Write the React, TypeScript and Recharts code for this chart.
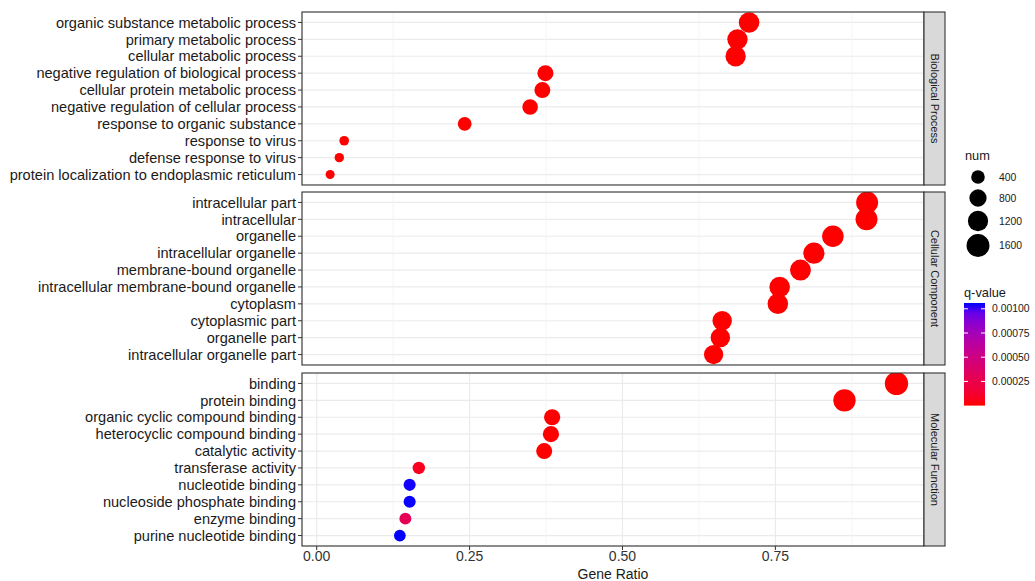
import { CartesianGrid, Cell, ReferenceLine, Scatter, ScatterChart, XAxis, YAxis, ZAxis } from 'recharts';

// GO terms, listed top to bottom as they appear in each facet
const bpTerms = [
    'organic substance metabolic process',
    'primary metabolic process',
    'cellular metabolic process',
    'negative regulation of biological process',
    'cellular protein metabolic process',
    'negative regulation of cellular process',
    'response to organic substance',
    'response to virus',
    'defense response to virus',
    'protein localization to endoplasmic reticulum',
];
const bpRatio = [0.707, 0.688, 0.685, 0.374, 0.369, 0.349, 0.242, 0.045, 0.037, 0.022];
const bpNum = [1237, 1204, 1199, 655, 646, 611, 424, 79, 65, 39];
const bpQ = [2.1e-40, 5.3e-38, 8.0e-36, 3.2e-20, 1.5e-18, 4.1e-17, 2.7e-12, 6.0e-9, 1.1e-7, 3.5e-6];

const ccTerms = [
    'intracellular part',
    'intracellular',
    'organelle',
    'intracellular organelle',
    'membrane-bound organelle',
    'intracellular membrane-bound organelle',
    'cytoplasm',
    'cytoplasmic part',
    'organelle part',
    'intracellular organelle part',
];
const ccRatio = [0.9, 0.899, 0.844, 0.813, 0.791, 0.757, 0.754, 0.663, 0.66, 0.649];
const ccNum = [1449, 1447, 1380, 1330, 1290, 1240, 1235, 1085, 1080, 1062];
const ccQ = [1.0e-45, 2.0e-45, 3.1e-40, 4.4e-38, 2.2e-36, 6.0e-33, 9.1e-33, 1.3e-25, 2.4e-25, 5.6e-24];

const mfTerms = [
    'binding',
    'protein binding',
    'organic cyclic compound binding',
    'heterocyclic compound binding',
    'catalytic activity',
    'transferase activity',
    'nucleotide binding',
    'nucleoside phosphate binding',
    'enzyme binding',
    'purine nucleotide binding',
];
const mfRatio = [0.948, 0.863, 0.385, 0.383, 0.372, 0.167, 0.152, 0.152, 0.145, 0.136];
const mfNum = [1659, 1510, 674, 670, 651, 292, 266, 266, 254, 238];
const mfQ = [1.0e-30, 1.0e-25, 2.0e-8, 3.0e-8, 4.0e-7, 7.0e-5, 0.001055, 0.001058, 0.00029, 0.00106];

const facetLabels = ['Biological Process', 'Cellular Component', 'Molecular Function'];
const xTicks = [0, 0.25, 0.5, 0.75];
const xMinor = [0.125, 0.375, 0.625, 0.875];
const numLegend = [400, 800, 1200, 1600];
const qLegend = [0.001, 0.00075, 0.0005, 0.00025];

const FONT = '"Liberation Sans", Arial, sans-serif';
const X_DOMAIN: [number, number] = [-0.024, 0.993];
const Z_RANGE: [number, number] = [64, 426];
const PLOT_L = 302;
const PLOT_R = 924;
const PANEL_H = 173;
const PANEL_TOPS = [12, 192, 373];

const allNum = [...bpNum, ...ccNum, ...mfNum];
const allQ = [...bpQ, ...ccQ, ...mfQ];
const NUM_MIN = Math.min(...allNum);
const NUM_MAX = Math.max(...allNum);
const Q_MIN = Math.min(...allQ);
const Q_MAX = Math.max(...allQ);

// red -> blue gradient in Lab space, like ggplot's scale_colour_gradient
function toLinear(c: number) {
    const v = c / 255;
    return v <= 0.04045 ? v / 12.92 : Math.pow((v + 0.055) / 1.055, 2.4);
}
function toLab(rgb: number[]) {
    const [r, g, b] = rgb.map(toLinear);
    const x = (0.4124 * r + 0.3576 * g + 0.1805 * b) / 0.95047;
    const y = 0.2126 * r + 0.7152 * g + 0.0722 * b;
    const z = (0.0193 * r + 0.1192 * g + 0.9505 * b) / 1.08883;
    const f = (t: number) => (t > 0.008856 ? Math.cbrt(t) : 7.787 * t + 16 / 116);
    return [116 * f(y) - 16, 500 * (f(x) - f(y)), 200 * (f(y) - f(z))];
}
function fromLab([L, a, bb]: number[]) {
    const fy = (L + 16) / 116;
    const fx = fy + a / 500;
    const fz = fy - bb / 200;
    const inv = (t: number) => (t * t * t > 0.008856 ? t * t * t : (t - 16 / 116) / 7.787);
    const x = inv(fx) * 0.95047;
    const y = inv(fy);
    const z = inv(fz) * 1.08883;
    const lin = [
        3.2406 * x - 1.5372 * y - 0.4986 * z,
        -0.9689 * x + 1.8758 * y + 0.0415 * z,
        0.0557 * x - 0.204 * y + 1.057 * z,
    ];
    const out = lin.map((c) => {
        const v = Math.min(1, Math.max(0, c));
        const s = v <= 0.0031308 ? 12.92 * v : 1.055 * Math.pow(v, 1 / 2.4) - 0.055;
        return Math.round(s * 255);
    });
    return `rgb(${out[0]},${out[1]},${out[2]})`;
}
const LOW = toLab([255, 0, 0]);
const HIGH = toLab([0, 0, 255]);
function qColor(q: number) {
    const t = (q - Q_MIN) / (Q_MAX - Q_MIN);
    return fromLab(LOW.map((v, i) => v + (HIGH[i] - v) * t));
}
function legendRadius(n: number) {
    const area = Z_RANGE[0] + ((Z_RANGE[1] - Z_RANGE[0]) * (n - NUM_MIN)) / (NUM_MAX - NUM_MIN);
    return Math.sqrt(area / Math.PI);
}

const facets = [
    { terms: bpTerms, ratio: bpRatio, num: bpNum, q: bpQ },
    { terms: ccTerms, ratio: ccRatio, num: ccNum, q: ccQ },
    { terms: mfTerms, ratio: mfRatio, num: mfNum, q: mfQ },
];

function Facet({ index }: { index: number }) {
    const f = facets[index];
    const rows = f.terms.map((term, i) => ({ term, ratio: f.ratio[i], num: f.num[i], q: f.q[i] }));
    const showX = index === facets.length - 1;
    const axisH = showX ? 36 : 0;
    return (
        <div style={{ position: 'absolute', left: 0, top: PANEL_TOPS[index] }}>
            <ScatterChart
                width={PLOT_R}
                height={PANEL_H + axisH}
                margin={{ top: 0, right: 0, bottom: 0, left: 0 }}
                style={{ fontFamily: FONT }}
            >
                <CartesianGrid stroke="#EBEBEB" strokeWidth={1.2} />
                <XAxis
                    type="number"
                    dataKey="ratio"
                    domain={X_DOMAIN}
                    ticks={xTicks}
                    allowDataOverflow
                    height={axisH}
                    axisLine={false}
                    tick={showX ? { fill: '#333', fontSize: 14 } : false}
                    tickLine={showX ? { stroke: '#333' } : false}
                    tickSize={4}
                    tickMargin={1}
                    tickFormatter={(v: number) => v.toFixed(2)}
                    label={
                        showX
                            ? { value: 'Gene Ratio', position: 'insideBottom', offset: 3, fill: '#1a1a1a', fontSize: 14 }
                            : undefined
                    }
                />
                <YAxis
                    type="category"
                    dataKey="term"
                    width={PLOT_L}
                    reversed
                    interval={0}
                    padding={{ top: 2, bottom: 2 }}
                    axisLine={false}
                    tick={{ fill: '#1a1a1a', fontSize: 14.6 }}
                    tickLine={{ stroke: '#333' }}
                    tickSize={4}
                    tickMargin={2}
                />
                <ZAxis type="number" dataKey="num" domain={[NUM_MIN, NUM_MAX]} range={Z_RANGE} />
                {xMinor.map((v) => (
                    <ReferenceLine key={v} x={v} stroke="#F3F3F3" strokeWidth={0.8} />
                ))}
                <Scatter data={rows} isAnimationActive={false}>
                    {rows.map((r) => (
                        <Cell key={r.term} fill={qColor(r.q)} />
                    ))}
                </Scatter>
            </ScatterChart>
        </div>
    );
}

function Overlay() {
    const barTop = 303;
    const barH = 102.6;
    const barX = 964;
    const barW = 21;
    const stops = Array.from({ length: 11 }, (_, i) => i / 10);
    const qY = (q: number) => barTop + barH - ((q - Q_MIN) / (Q_MAX - Q_MIN)) * barH;
    const sizeY = [177, 198, 221, 245.5];
    return (
        <svg
            width={1035}
            height={581}
            style={{ position: 'absolute', left: 0, top: 0, pointerEvents: 'none', fontFamily: FONT }}
        >
            <defs>
                <linearGradient id="qbar" x1="0" y1="1" x2="0" y2="0">
                    {stops.map((t) => (
                        <stop key={t} offset={t} stopColor={qColor(Q_MIN + t * (Q_MAX - Q_MIN))} />
                    ))}
                </linearGradient>
            </defs>
            {PANEL_TOPS.map((top, i) => (
                <g key={i}>
                    <rect x={PLOT_L} y={top} width={PLOT_R - PLOT_L} height={PANEL_H} fill="none" stroke="#333" strokeWidth={1.1} />
                    <rect x={PLOT_R} y={top} width={21} height={PANEL_H} fill="#D9D9D9" stroke="#333" strokeWidth={1.1} />
                    <text
                        transform={`translate(${PLOT_R + 10.5},${top + PANEL_H / 2}) rotate(90)`}
                        textAnchor="middle"
                        dy="0.35em"
                        fontSize={11}
                        fill="#1a1a1a"
                    >
                        {facetLabels[i]}
                    </text>
                </g>
            ))}

            <text x={965} y={160} fontSize={12.8} fill="#1a1a1a">
                num
            </text>
            {numLegend.map((n, i) => (
                <g key={n}>
                    <circle cx={978} cy={sizeY[i]} r={legendRadius(n)} fill="#000" />
                    <text x={999} y={sizeY[i]} dy="0.35em" fontSize={10.4} fill="#1a1a1a">
                        {n}
                    </text>
                </g>
            ))}

            <text x={964} y={297} fontSize={12.8} fill="#1a1a1a">
                q-value
            </text>
            <rect x={barX} y={barTop} width={barW} height={barH} fill="url(#qbar)" />
            {qLegend.map((q) => (
                <g key={q}>
                    <line x1={barX} x2={barX + 4} y1={qY(q)} y2={qY(q)} stroke="#fff" strokeWidth={1} />
                    <line x1={barX + barW - 4} x2={barX + barW} y1={qY(q)} y2={qY(q)} stroke="#fff" strokeWidth={1} />
                    <text x={992} y={qY(q)} dy="0.35em" fontSize={10.4} fill="#1a1a1a">
                        {q.toFixed(5)}
                    </text>
                </g>
            ))}
        </svg>
    );
}

export default function App() {
    return (
        <div style={{ position: 'absolute', left: 0, top: 0, width: 1035, height: 581, background: '#fff', fontFamily: FONT }}>
            {facets.map((_, i) => (
                <Facet key={i} index={i} />
            ))}
            <Overlay />
        </div>
    );
}
